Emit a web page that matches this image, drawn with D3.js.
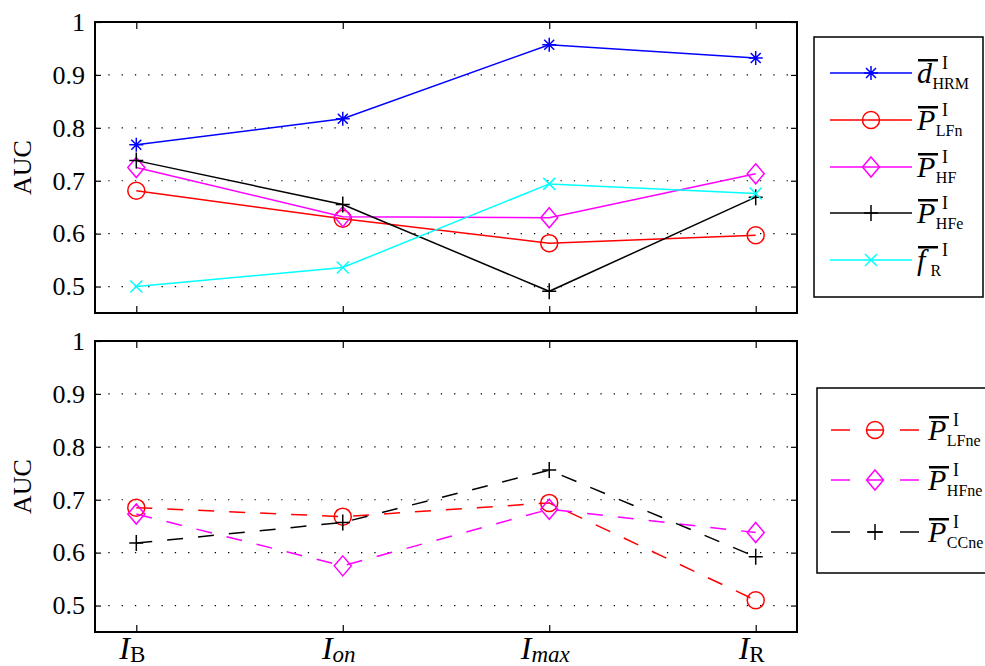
<!DOCTYPE html>
<html>
<head>
<meta charset="utf-8">
<script src="https://cdn.jsdelivr.net/npm/d3@7"></script>
<style>
  html, body { margin: 0; padding: 0; background: #fff; }
  svg { display: block; }
  text { font-family: "Liberation Serif", "Times New Roman", serif; fill: #000; }
</style>
</head>
<body>
<svg id="chart" width="985" height="666"></svg>
<script>
// Intervals on the x axis
const categories = ["B", "on", "max", "R"];
const categoryItalic = [false, true, true, false];

// Upper panel: AUC per feature
const dHRM  = [0.768, 0.817, 0.957, 0.932];
const PLFn  = [0.681, 0.628, 0.582, 0.597];
const PHF   = [0.725, 0.632, 0.630, 0.713];
const PHFe  = [0.738, 0.655, 0.491, 0.669];
const fR    = [0.500, 0.536, 0.694, 0.676];

// Lower panel: AUC per normalised feature
const PLFne = [0.685, 0.668, 0.694, 0.510];
const PHFne = [0.673, 0.575, 0.682, 0.638];
const PCCne = [0.618, 0.657, 0.756, 0.592];

const yTicks = [0.5, 0.6, 0.7, 0.8, 0.9, 1];

const topSeries = [
  { values: dHRM, color: "#0000ff", marker: "asterisk", sym: "d", sub: "HRM" },
  { values: PLFn, color: "#ff0000", marker: "circle",   sym: "P", sub: "LFn" },
  { values: PHF,  color: "#ff00ff", marker: "diamond",  sym: "P", sub: "HF" },
  { values: PHFe, color: "#000000", marker: "plus",     sym: "P", sub: "HFe" },
  { values: fR,   color: "#00ffff", marker: "cross",    sym: "f", sub: "R" }
];
const bottomSeries = [
  { values: PLFne, color: "#ff0000", marker: "circle",  sym: "P", sub: "LFne" },
  { values: PHFne, color: "#ff00ff", marker: "diamond", sym: "P", sub: "HFne" },
  { values: PCCne, color: "#000000", marker: "plus",    sym: "P", sub: "CCne" }
];

const svg = d3.select("#chart");
const left = 95, right = 797;

const x = d3.scaleLinear().domain([0.8, 4.2]).range([left, right]);

function drawMarker(g, type, cx, cy, color) {
  const s = g.append("g").attr("transform", `translate(${cx},${cy})`)
    .attr("fill", "none").attr("stroke", color).attr("stroke-width", 1.5);
  if (type === "circle") {
    s.append("circle").attr("r", 8.5);
  } else if (type === "diamond") {
    s.append("path").attr("d", "M0,-10L8.5,0L0,10L-8.5,0Z");
  } else if (type === "plus") {
    s.append("path").attr("d", "M-7,0H7M0,-8V8");
  } else if (type === "cross") {
    s.append("path").attr("d", "M-6,-6L6,6M-6,6L6,-6");
  } else if (type === "asterisk") {
    s.append("path").attr("d", "M-7,0H7M0,-7V7M-5,-5L5,5M-5,5L5,-5");
  }
}

function panel(top, bottom, series, dashed) {
  const y = d3.scaleLinear().domain([0.45, 1]).range([bottom, top]);
  const g = svg.append("g");

  // dotted horizontal grid
  g.append("g").selectAll("line").data(yTicks.filter(v => v < 1)).join("line")
    .attr("x1", left).attr("x2", right)
    .attr("y1", d => y(d)).attr("y2", d => y(d))
    .attr("stroke", "#000").attr("stroke-width", 1.2)
    .attr("stroke-dasharray", "1.3 12");

  // left axis with labels
  const ay = g.append("g").attr("transform", `translate(${left},0)`)
    .call(d3.axisLeft(y).tickValues(yTicks).tickFormat(d => d === 1 ? "1" : d3.format(".1f")(d))
      .tickSizeInner(-6).tickSizeOuter(0).tickPadding(10));
  ay.select(".domain").remove();
  ay.selectAll("line").attr("stroke", "#000").attr("stroke-width", 1.2);
  ay.selectAll("text").style("font-size", "26px");

  // right-side ticks
  const ar = g.append("g").attr("transform", `translate(${right},0)`)
    .call(d3.axisRight(y).tickValues(yTicks).tickFormat("").tickSizeInner(-6).tickSizeOuter(0));
  ar.select(".domain").remove();
  ar.selectAll("line").attr("stroke", "#000").attr("stroke-width", 1.2);

  // bottom and top x ticks
  const ab = g.append("g").attr("transform", `translate(0,${bottom})`)
    .call(d3.axisBottom(x).tickValues([1, 2, 3, 4]).tickFormat("").tickSizeInner(-7).tickSizeOuter(0));
  ab.select(".domain").remove();
  ab.selectAll("line").attr("stroke", "#000").attr("stroke-width", 1.2);
  const at = g.append("g").attr("transform", `translate(0,${top})`)
    .call(d3.axisTop(x).tickValues([1, 2, 3, 4]).tickFormat("").tickSizeInner(-7).tickSizeOuter(0));
  at.select(".domain").remove();
  at.selectAll("line").attr("stroke", "#000").attr("stroke-width", 1.2);

  // frame
  g.append("rect").attr("x", left).attr("y", top)
    .attr("width", right - left).attr("height", bottom - top)
    .attr("fill", "none").attr("stroke", "#000").attr("stroke-width", 2);

  // y label
  g.append("text").attr("transform", `translate(31,${(top + bottom) / 2}) rotate(-90)`)
    .attr("text-anchor", "middle").style("font-size", "26px").text("AUC");

  const line = d3.line().x((d, i) => x(i + 1)).y(d => y(d));
  series.forEach(s => {
    g.append("path").datum(s.values).attr("d", line)
      .attr("fill", "none").attr("stroke", s.color).attr("stroke-width", 1.5)
      .attr("stroke-dasharray", dashed ? "16 15" : null);
    s.values.forEach((v, i) => drawMarker(g, s.marker, x(i + 1), y(v), s.color));
  });
}

panel(22, 313, topSeries, false);
panel(341, 632, bottomSeries, true);

// legend label: overlined symbol with superscript I and a subscript
function legendLabel(g, lx, ly, sym, sub) {
  const main = g.append("text").attr("x", lx).attr("y", ly)
    .style("font-size", "30px").style("font-style", "italic").text(sym);
  const w = main.node().getComputedTextLength();
  g.append("rect").attr("x", lx + 1).attr("y", ly - 24)
    .attr("width", 20).attr("height", 2.5).attr("fill", "#000");
  g.append("text").attr("x", lx + 25).attr("y", ly - 14)
    .style("font-size", "18px").text("I");
  g.append("text").attr("x", lx + Math.max(w, 13) + 0.5).attr("y", ly + 6)
    .style("font-size", "16px").text(sub);
}

function legend(bx, by, bw, bh, series, rows, dashed) {
  const g = svg.append("g");
  g.append("rect").attr("x", bx).attr("y", by).attr("width", bw).attr("height", bh)
    .attr("fill", "#fff").attr("stroke", "#000").attr("stroke-width", 1.5);
  series.forEach((s, i) => {
    const ly = rows[i];
    if (dashed) {
      // dashed sample: outer dashes plus a short one under the marker
      [[831, 850], [867, 883], [900, 919]].forEach(([a, b]) => {
        g.append("line").attr("x1", a).attr("x2", b).attr("y1", ly).attr("y2", ly)
          .attr("stroke", s.color).attr("stroke-width", 1.5);
      });
    } else {
      g.append("line").attr("x1", 830).attr("x2", 912).attr("y1", ly).attr("y2", ly)
        .attr("stroke", s.color).attr("stroke-width", 1.5);
    }
    drawMarker(g, s.marker, dashed ? 875 : 871, ly, s.color);
    legendLabel(g, dashed ? 928 : 917, ly + 10, s.sym, s.sub);
  });
}

legend(814, 37, 169, 260, topSeries, [73, 120, 167, 213, 260], false);
legend(817, 388, 180, 185, bottomSeries, [430, 480, 532], true);

// x tick labels under the lower panel
categories.forEach((c, i) => {
  const t = svg.append("text").attr("y", 659).attr("text-anchor", "middle").attr("x", x(i + 1) - 4);
  t.append("tspan").style("font-size", "32px").style("font-style", "italic").text("I");
  t.append("tspan").style("font-size", "23px").attr("dy", 3)
    .style("font-style", categoryItalic[i] ? "italic" : "normal").text(c);
});
</script>
</body>
</html>
